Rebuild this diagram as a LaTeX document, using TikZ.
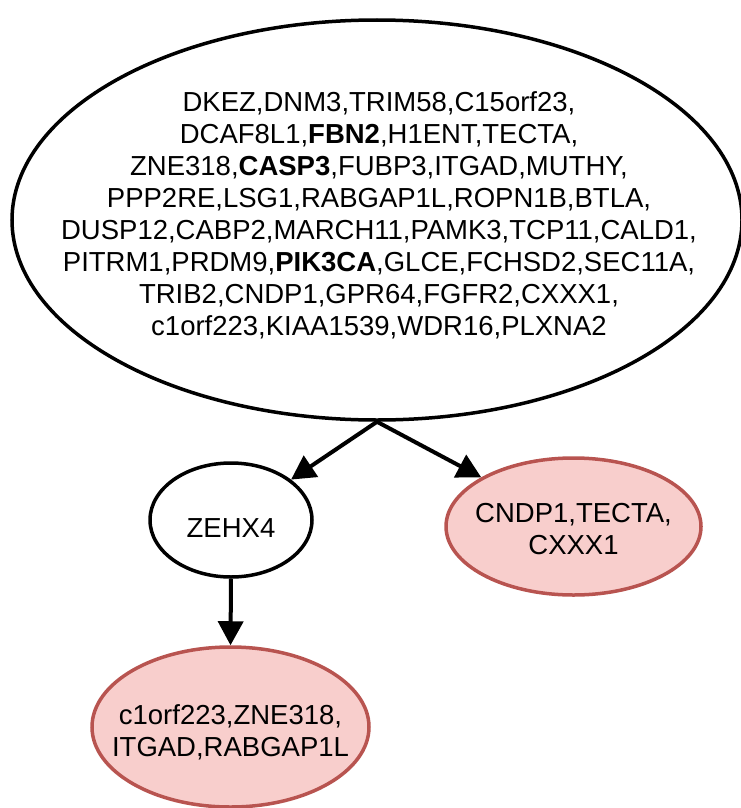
\documentclass[tikz,border=0pt]{standalone}
\usepackage{fontspec}
\setmainfont{Liberation Sans}
\usetikzlibrary{shapes.geometric,arrows.meta}
\definecolor{hitfill}{HTML}{F8CECC}
\definecolor{hitline}{HTML}{B85450}
\tikzset{
  oval/.style={ellipse,draw=black,line width=3.5pt,inner sep=0pt,fill=white},
  hitoval/.style={ellipse,draw=hitline,fill=hitfill,line width=3.5pt,inner sep=0pt},
  genes/.style={align=center,inner sep=0pt,font=\fontsize{27.5}{32}\selectfont},
  edge/.style={line width=4pt,-{Triangle[length=24pt,width=25pt]}},
}
\begin{document}
\begin{tikzpicture}[x=1pt,y=-1pt]
\useasboundingbox (0,0) rectangle (741,808);
% root cluster
\node[oval,minimum width=730pt,minimum height=400pt] (root) at (377,220) {};
\node[genes] (rootlbl) at (379,215) {DKEZ,DNM3,TRIM58,C15orf23,\\
DCAF8L1,\textbf{FBN2},H1ENT,TECTA,\\
ZNE318,\textbf{CASP3},FUBP3,ITGAD,MUTHY,\\
PPP2RE,LSG1,RABGAP1L,ROPN1B,BTLA,\\
DUSP12,CABP2,MARCH11,PAMK3,TCP11,CALD1,\\
PITRM1,PRDM9,\textbf{PIK3CA},GLCE,FCHSD2,SEC11A,\\
TRIB2,CNDP1,GPR64,FGFR2,CXXX1,\\
c1orf223,KIAA1539,WDR16,PLXNA2};
% children
\node[oval,minimum width=162pt,minimum height=114pt] (zehx) at (231,520) {};
\node[genes] (zehxlbl) at (231,528) {ZEHX4};
\node[hitoval,minimum width=255pt,minimum height=137pt] (cndp) at (573.5,526.5) {};
\node[genes] (cndplbl) at (573.5,529) {CNDP1,TECTA,\\CXXX1};
\node[hitoval,minimum width=277pt,minimum height=160pt] (corf) at (230.5,727) {};
\node[genes] (corflbl) at (230.5,732) {c1orf223,ZNE318,\\ITGAD,RABGAP1L};
% edges
\draw[edge] (root.south) -- (zehx);
\draw[edge] (root.south) -- (cndp);
\draw[edge] (zehx.south) -- (corf.north);
\end{tikzpicture}
\end{document}
